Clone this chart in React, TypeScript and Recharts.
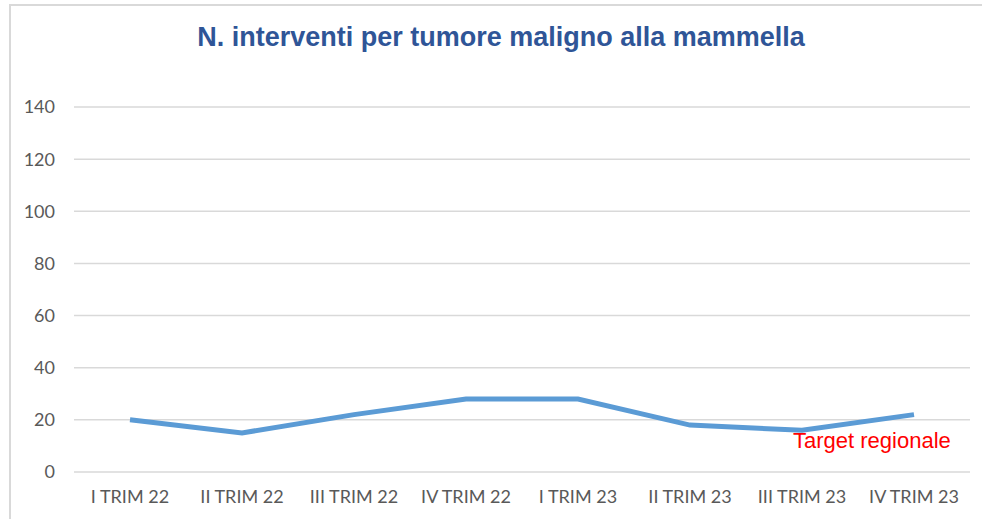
import React from "react";
import { LineChart, Line, XAxis, YAxis, CartesianGrid } from "recharts";

const categories = [
  "I TRIM 22",
  "II TRIM 22",
  "III TRIM 22",
  "IV TRIM 22",
  "I TRIM 23",
  "II TRIM 23",
  "III TRIM 23",
  "IV TRIM 23",
];
const interventi = [20, 15, 22, 28, 28, 18, 16, 22];
const yTicks = [0, 20, 40, 60, 80, 100, 120, 140];
const title = "N. interventi per tumore maligno alla mammella";
const targetLabel = "Target regionale";

const data = categories.map((c, i) => ({ name: c, value: interventi[i] }));

const tickStyle = { fontFamily: "Lato, sans-serif", fontSize: 18, fill: "#595959" };

export default function App() {
  return (
    <div
      style={{
        position: "absolute",
        left: 0,
        top: 0,
        width: 982,
        height: 519,
        background: "#ffffff",
        overflow: "hidden",
      }}
    >
      <div
        style={{
          position: "absolute",
          left: 9,
          top: 4,
          width: 1000,
          height: 600,
          borderLeft: "2px solid #d9d9d9",
          borderTop: "2px solid #d9d9d9",
        }}
      />
      <div
        style={{
          position: "absolute",
          left: 0,
          top: 17,
          width: 1002,
          textAlign: "center",
          fontFamily: "'Liberation Sans', Arial, sans-serif",
          fontWeight: "bold",
          fontSize: 27,
          color: "#2F5597",
          lineHeight: "40px",
        }}
      >
        {title}
      </div>
      <div style={{ position: "absolute", left: 0, top: 0 }}>
        <LineChart
          width={982}
          height={519}
          data={data}
          margin={{ top: 107, right: 12, bottom: 0, left: 0 }}
        >
          <CartesianGrid vertical={false} stroke="#d9d9d9" strokeWidth={1.5} />
          <XAxis
            dataKey="name"
            axisLine={false}
            tickLine={false}
            tickSize={0}
            tickMargin={18}
            height={47}
            padding={{ left: 56, right: 56 }}
            tick={tickStyle}
            interval={0}
          />
          <YAxis
            width={74}
            domain={[0, 140]}
            ticks={yTicks}
            axisLine={false}
            tickLine={false}
            tickSize={0}
            tickMargin={19}
            tick={tickStyle}
          />
          <Line
            type="linear"
            dataKey="value"
            stroke="#5B9BD5"
            strokeWidth={5}
            dot={false}
            activeDot={false}
            isAnimationActive={false}
          />
        </LineChart>
      </div>
      <div
        style={{
          position: "absolute",
          left: 793,
          top: 428,
          fontFamily: "'Liberation Sans', Arial, sans-serif",
          fontSize: 22,
          color: "#FF0000",
          lineHeight: "26px",
          whiteSpace: "nowrap",
        }}
      >
        {targetLabel}
      </div>
    </div>
  );
}
